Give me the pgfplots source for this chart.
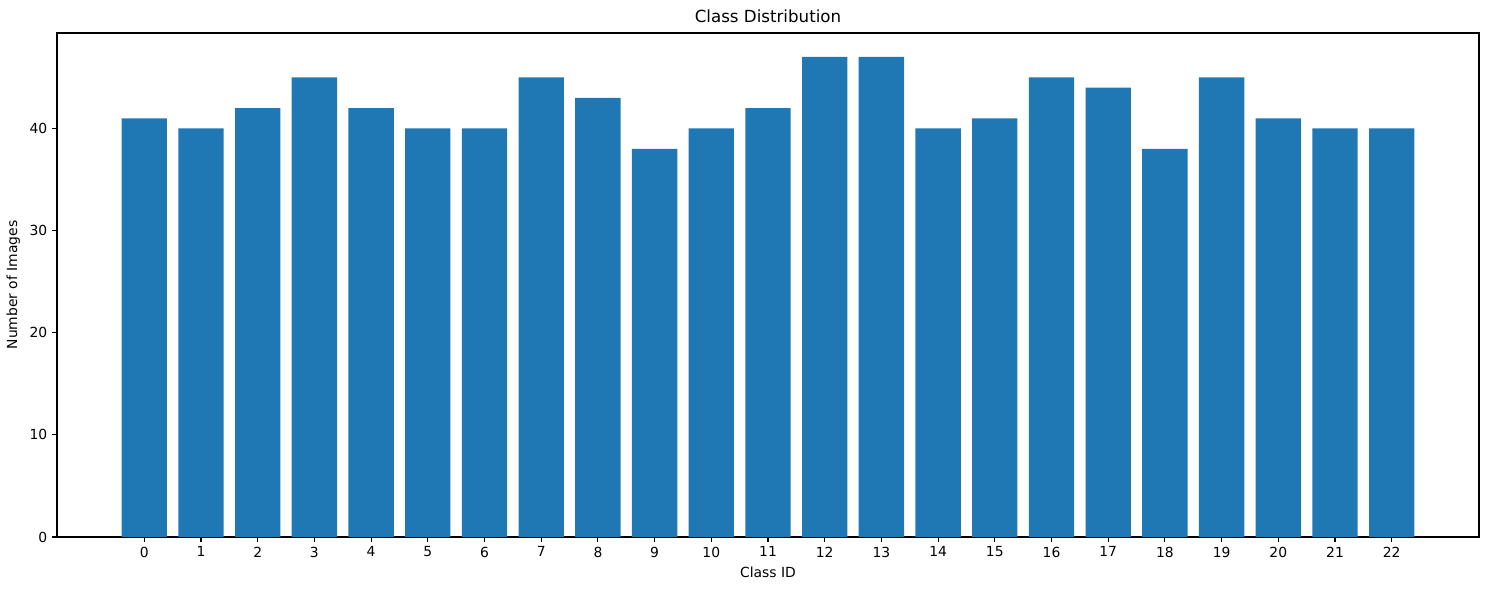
\documentclass[border=0pt]{standalone}
\usepackage{fontspec}
\setmainfont{DejaVu Sans}
\usepackage{pgfplots}
\pgfplotsset{compat=1.18}
\definecolor{mplblue}{HTML}{1F77B4}
\begin{document}
\begin{tikzpicture}
\path[use as bounding box] (-41.04pt,-38.16pt) rectangle (1023.84pt+7.2pt,362.88pt+23.76pt);
\begin{axis}[
  at={(0,0)}, anchor=south west,
  scale only axis, width=1023.84pt, height=362.88pt,
  xmin=-1.54, xmax=23.54, ymin=0, ymax=49.35,
  xtick={0,...,22}, ytick={0,10,20,30,40},
  tick align=outside, tick pos=left,
  major tick length=3.5pt,
  tick style={black, line width=0.8pt},
  axis line style={line width=0.8pt},
  ticklabel style={font=\fontsize{10}{12}\selectfont},
  /pgf/number format/assume math mode=true,
  title={Class Distribution},
  title style={font=\fontsize{12}{14}\selectfont, yshift=-2pt},
  xlabel={Class ID}, ylabel={Number of Images},
  label style={font=\fontsize{10}{12}\selectfont},
  ybar, bar width=0.8, bar shift=0pt,
]
\addplot[fill=mplblue, draw=none] coordinates {
(0,41) (1,40) (2,42) (3,45) (4,42) (5,40) (6,40) (7,45) (8,43) (9,38) (10,40) (11,42)
(12,47) (13,47) (14,40) (15,41) (16,45) (17,44) (18,38) (19,45) (20,41) (21,40) (22,40)};
\end{axis}
\end{tikzpicture}
\end{document}
